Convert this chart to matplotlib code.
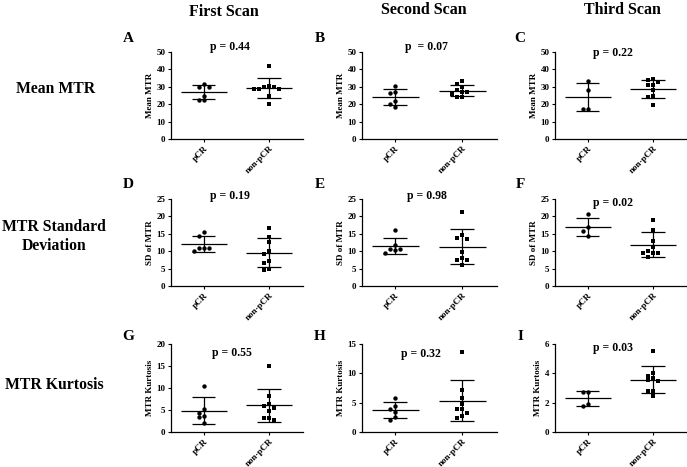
import numpy as np
import matplotlib
matplotlib.use("Agg")
import matplotlib.pyplot as plt

plt.rcParams['font.family'] = ['Liberation Serif', 'DejaVu Serif']
plt.rcParams['font.weight'] = 'bold'

groups = ["pCR", "non-pCR"]
scans = ["First Scan", "Second Scan", "Third Scan"]
row_titles = ["Mean MTR", "MTR Standard\nDeviation", "MTR Kurtosis"]
ylabels = ["Mean MTR", "SD of MTR", "MTR Kurtosis"]
letters = [["A", "B", "C"], ["D", "E", "F"], ["G", "H", "I"]]
p_text = [["p = 0.44", "p  = 0.07", "p = 0.22"],
          ["p = 0.19", "p = 0.98", "p = 0.02"],
          ["p = 0.55", "p = 0.32", "p = 0.03"]]

# Mean MTR
mean_pcr_1 = [31.4, 29.8, 29.8, 24.9, 22.4, 22.4]
mean_non_1 = [41.8, 30.2, 30.0, 29.7, 28.5, 28.5, 28.5, 24.7, 20.0]
mean_pcr_2 = [30.4, 27.2, 26.2, 22.1, 20.2, 18.3]
mean_non_2 = [33.3, 31.4, 29.7, 28.1, 27.2, 26.8, 25.7, 24.0, 24.0]
mean_pcr_3 = [33.6, 28.1, 17.4, 17.4]
mean_non_3 = [34.4, 34.0, 33.0, 30.9, 30.9, 28.2, 24.8, 24.0, 19.7]
# SD of MTR
sd_pcr_1 = [15.6, 14.4, 11.0, 11.0, 10.8, 10.0]
sd_non_1 = [16.6, 14.0, 12.6, 10.0, 9.1, 7.3, 6.7, 4.8, 4.5]
sd_pcr_2 = [16.2, 11.7, 10.6, 10.5, 10.3, 9.6]
sd_non_2 = [21.3, 14.7, 13.9, 13.5, 9.7, 8.1, 7.5, 7.5, 5.9]
sd_pcr_3 = [20.6, 17.0, 15.9, 14.5]
sd_non_3 = [19.0, 16.1, 12.8, 11.3, 10.2, 9.6, 9.6, 9.4, 8.4]
# MTR Kurtosis
kurt_pcr_1 = [10.5, 5.3, 4.4, 3.7, 3.4, 2.0]
kurt_non_1 = [15.1, 8.1, 6.3, 5.8, 5.4, 4.7, 3.2, 3.2, 2.7]
kurt_pcr_2 = [5.8, 4.5, 4.0, 3.4, 2.5, 2.1]
kurt_non_2 = [13.7, 7.1, 5.8, 4.8, 4.0, 4.0, 3.3, 2.7, 2.4]
kurt_pcr_3 = [2.74, 2.74, 1.88, 1.79]
kurt_non_3 = [5.52, 4.05, 3.85, 3.71, 3.53, 3.48, 2.81, 2.81, 2.44]

data = [[(mean_pcr_1, mean_non_1), (mean_pcr_2, mean_non_2), (mean_pcr_3, mean_non_3)],
        [(sd_pcr_1, sd_non_1), (sd_pcr_2, sd_non_2), (sd_pcr_3, sd_non_3)],
        [(kurt_pcr_1, kurt_non_1), (kurt_pcr_2, kurt_non_2), (kurt_pcr_3, kurt_non_3)]]

ylims = [[50, 50, 50], [25, 25, 25], [20, 15, 6]]
ysteps = [[10, 10, 10], [5, 5, 5], [5, 5, 2]]

# layout (pixels of a 687x467 canvas)
W, H = 687, 467
col_left = [171, 362, 555]
col_w = [132, 135, 132]
row_top = [52, 199, 344]
row_h = [87, 87, 88]
p_y = [[1.06, 1.06, 0.99], [1.03, 1.03, 0.95], [0.90, 0.89, 0.95]]
p_x = [[0.45, 0.48, 0.44], [0.45, 0.48, 0.44], [0.46, 0.44, 0.44]]
letter_x = [128, 320, 520]
letter_y = [38, 185, 337]


def swarm(vals, ax_h_px, ymax, step_px=5.0, x_per_px=1 / 66.0):
    # simple dot-plot spreading, in pixel space
    ys = np.asarray(vals, dtype=float) * ax_h_px / ymax
    order = np.argsort(-ys)
    placed = []
    offs = np.zeros(len(ys))
    for i in order:
        for k in [0, -1, 1, -2, 2, -3, 3, -4, 4]:
            x = k * step_px
            if all(abs(x - px) >= 4.5 or abs(ys[i] - py) >= 4.2 for px, py in placed):
                break
        placed.append((x, ys[i]))
        offs[i] = x * x_per_px
    return offs


fig = plt.figure(figsize=(W / 100, H / 100), dpi=100)

for r in range(3):
    for c in range(3):
        ax = fig.add_axes([col_left[c] / W, 1 - (row_top[r] + row_h[r]) / H,
                           col_w[c] / W, row_h[r] / H])
        ymax = ylims[r][c]
        for g, (vals, mk) in enumerate(zip(data[r][c], ['o', 's'])):
            vals = np.asarray(vals)
            offs = swarm(vals, row_h[r], ymax, x_per_px=1 / 66.0)
            ax.scatter(g + offs, vals, marker=mk, s=10, color='black',
                       linewidths=0, zorder=3)
            m = vals.mean()
            s = vals.std(ddof=1)
            ax.hlines(m, g - 0.35, g + 0.35, color='black', lw=0.9)
            ax.hlines([m - s, m + s], g - 0.18, g + 0.18, color='black', lw=0.9)
            ax.vlines(g, m - s, m + s, color='black', lw=0.9)
        ax.set_xlim(-0.5, 1.52)
        ax.set_ylim(0, ymax)
        ax.set_yticks(np.arange(0, ymax + 0.01, ysteps[r][c]))
        ax.set_xticks([0, 1])
        ax.set_xticklabels(groups, rotation=45, ha='right',
                           rotation_mode='anchor', fontsize=6.5, fontweight='bold')
        for lab in ax.get_yticklabels():
            lab.set_fontsize(6.5)
            lab.set_fontweight('bold')
        ax.tick_params(length=2.5, width=0.8, pad=1.5)
        for sp in ['top', 'right']:
            ax.spines[sp].set_visible(False)
        for sp in ['left', 'bottom']:
            ax.spines[sp].set_linewidth(0.9)
        ax.set_ylabel(ylabels[r], fontsize=6.5, fontweight='bold', labelpad=2)
        ax.text(p_x[r][c], p_y[r][c], p_text[r][c], transform=ax.transAxes,
                ha='center', va='center', fontsize=8.5, fontweight='bold')
        fig.text(letter_x[c] / W, 1 - letter_y[r] / H,
                 letters[r][c], ha='center', va='center',
                 fontsize=11, fontweight='bold')

head_x = [224, 424, 622]
head_y = [12, 10, 10]
for c in range(3):
    fig.text(head_x[c] / W, 1 - head_y[c] / H, scans[c], ha='center',
             va='center', fontsize=11.5, fontweight='bold')

row_lab_x = [56, 54, 54]
row_lab_y = [89, 236, 385]
for r in range(3):
    fig.text(row_lab_x[r] / W, 1 - row_lab_y[r] / H, row_titles[r], ha='center',
             va='center', fontsize=11.3, fontweight='bold', linespacing=1.25)

fig.savefig("out.png", dpi=100)
